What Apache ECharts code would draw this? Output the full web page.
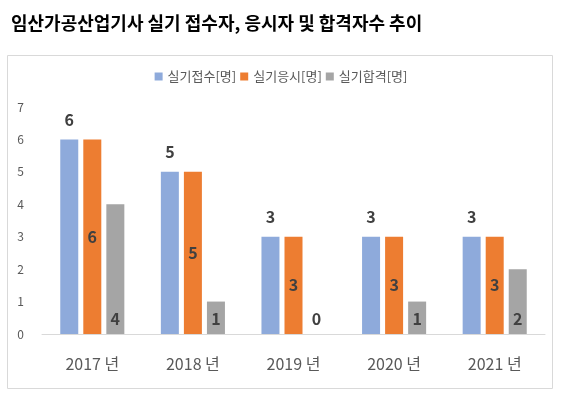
<!DOCTYPE html>
<html>
<head>
<meta charset="utf-8">
<script src="https://cdn.jsdelivr.net/npm/echarts@6/dist/echarts.min.js"></script>
<style>
  html, body { margin: 0; padding: 0; background: #fff; }
  #chart { width: 562px; height: 399px; }
</style>
</head>
<body>
<div id="chart"></div>
<script>
// 연도별 값
const years = ['2017 년', '2018 년', '2019 년', '2020 년', '2021 년'];
const received = [6, 5, 3, 3, 3];   // 실기접수
const applied = [6, 5, 3, 3, 3];    // 실기응시
const passed = [4, 1, 0, 1, 2];     // 실기합격
const seriesNames = ['실기접수[명]', '실기응시[명]', '실기합격[명]'];

const font = '"Noto Sans CJK KR", "Noto Sans", sans-serif';
const labelStyle = {
  show: true,
  fontFamily: font,
  fontSize: 16,
  fontWeight: 'bold',
  color: '#404040'
};

const chart = echarts.init(document.getElementById('chart'));
chart.setOption({
  animation: false,
  color: ['#8eaadb', '#ed7d31', '#a5a5a5'],
  title: {
    text: '임산가공산업기사 실기 접수자, 응시자 및 합격자수 추이',
    left: 6,
    top: 9,
    textStyle: { fontFamily: font, fontSize: 18, fontWeight: 'bold', color: '#000' }
  },
  graphic: [{
    type: 'rect',
    shape: { x: 7.5, y: 55.5, width: 545, height: 333 },
    style: { fill: 'none', stroke: '#d9d9d9', lineWidth: 1 },
    silent: true
  }],
  legend: {
    top: 65,
    left: 'center',
    itemWidth: 8,
    itemHeight: 8,
    itemGap: 4,
    icon: 'rect',
    textStyle: { fontFamily: font, fontSize: 13, color: '#595959' },
    data: seriesNames
  },
  grid: { left: 42, right: 17, top: 107, bottom: 65 },
  xAxis: {
    type: 'category',
    data: years,
    axisLine: { lineStyle: { color: '#d9d9d9' } },
    axisTick: { show: false },
    axisLabel: { fontFamily: font, fontSize: 16, color: '#595959', margin: 22 }
  },
  yAxis: {
    type: 'value',
    min: 0,
    max: 7,
    interval: 1,
    axisLine: { show: false },
    axisTick: { show: false },
    splitLine: { show: false },
    axisLabel: { fontFamily: font, fontSize: 12, color: '#595959', margin: 18 }
  },
  series: [
    {
      name: seriesNames[0], type: 'bar', data: received,
      barWidth: 18, barGap: '28%',
      label: Object.assign({}, labelStyle, { position: 'top', distance: 12 })
    },
    {
      name: seriesNames[1], type: 'bar', data: applied,
      barWidth: 18, barGap: '28%',
      label: Object.assign({}, labelStyle, { position: 'inside' })
    },
    {
      name: seriesNames[2], type: 'bar', data: passed,
      barWidth: 18, barGap: '28%',
      label: Object.assign({}, labelStyle, { position: 'insideBottom', distance: 7 })
    }
  ]
});
</script>
</body>
</html>
